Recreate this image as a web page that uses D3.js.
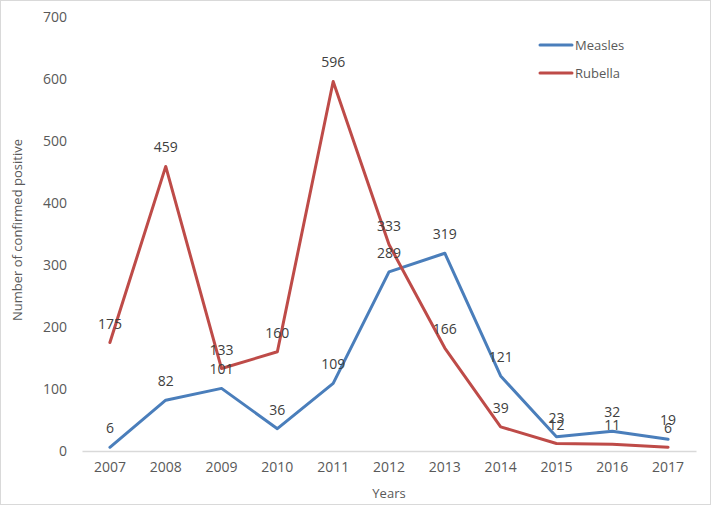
<!DOCTYPE html>
<html>
<head>
<meta charset="utf-8">
<script src="https://cdn.jsdelivr.net/npm/d3@7"></script>
<style>
  html, body { margin: 0; padding: 0; background: #fff; }
  svg { display: block; font-family: "Open Sans", "Noto Sans", sans-serif; }
</style>
</head>
<body>
<svg id="chart" width="711" height="505"></svg>
<script>
const years = ["2007","2008","2009","2010","2011","2012","2013","2014","2015","2016","2017"];
const measles = [6, 82, 101, 36, 109, 289, 319, 121, 23, 32, 19];
const rubella = [175, 459, 133, 160, 596, 333, 166, 39, 12, 11, 6];
const yTicks = [0, 100, 200, 300, 400, 500, 600, 700];
const seriesNames = ["Measles", "Rubella"];
const seriesColors = ["#4a7ebb", "#be4b48"];

const svg = d3.select("#chart");
const W = 711, H = 505;

svg.append("rect").attr("x", 0.5).attr("y", 0.5).attr("width", W - 1).attr("height", H - 1)
  .attr("fill", "#fff").attr("stroke", "#d9d9d9").attr("stroke-width", 1);

const x = d3.scaleBand().domain(years).range([82, 696]);
const y = d3.scaleLinear().domain([0, 700]).range([451, 17]);

// x axis
const xAxis = svg.append("g").attr("transform", "translate(0,451)")
  .call(d3.axisBottom(x).tickSize(0).tickPadding(11));
xAxis.select(".domain").attr("stroke", "#d9d9d9").attr("stroke-width", 1.5);
xAxis.selectAll("text").attr("fill", "#595959").attr("font-size", 14)
  .attr("font-family", "\"Open Sans\", sans-serif");

// y axis
const yAxis = svg.append("g").attr("transform", "translate(67,0)")
  .call(d3.axisLeft(y).tickValues(yTicks).tickSize(0).tickPadding(0));
yAxis.select(".domain").remove();
yAxis.selectAll("text").attr("fill", "#595959").attr("font-size", 14)
  .attr("font-family", "\"Open Sans\", sans-serif");

// axis titles
svg.append("text").attr("x", 389).attr("y", 498).attr("text-anchor", "middle")
  .attr("fill", "#595959").attr("font-size", 13).text("Years");
svg.append("text").attr("transform", "translate(22,230) rotate(-90)")
  .attr("text-anchor", "middle").attr("fill", "#595959").attr("font-size", 13)
  .text("Number of confirmed positive");

const line = d3.line()
  .x((d, i) => x(years[i]) + x.bandwidth() / 2)
  .y(d => y(d));

const allSeries = [measles, rubella];
allSeries.forEach((vals, si) => {
  svg.append("path").datum(vals)
    .attr("fill", "none").attr("stroke", seriesColors[si]).attr("stroke-width", 3)
    .attr("stroke-linejoin", "round").attr("stroke-linecap", "round")
    .attr("d", line);
});

// data labels
allSeries.forEach((vals, si) => {
  svg.append("g").selectAll("text").data(vals).join("text")
    .attr("x", (d, i) => x(years[i]) + x.bandwidth() / 2)
    .attr("y", d => y(d) - 14)
    .attr("text-anchor", "middle")
    .attr("fill", "#404040").attr("font-size", 14)
    .text(d => d);
});

// legend
const legend = svg.append("g");
seriesNames.forEach((name, i) => {
  const ly = 45 + i * 28;
  legend.append("line").attr("x1", 540).attr("x2", 572).attr("y1", ly).attr("y2", ly)
    .attr("stroke", seriesColors[i]).attr("stroke-width", 3).attr("stroke-linecap", "round");
  legend.append("text").attr("x", 575).attr("y", ly).attr("dy", "0.35em")
    .attr("fill", "#595959").attr("font-size", 13).text(name);
});
</script>
</body>
</html>
